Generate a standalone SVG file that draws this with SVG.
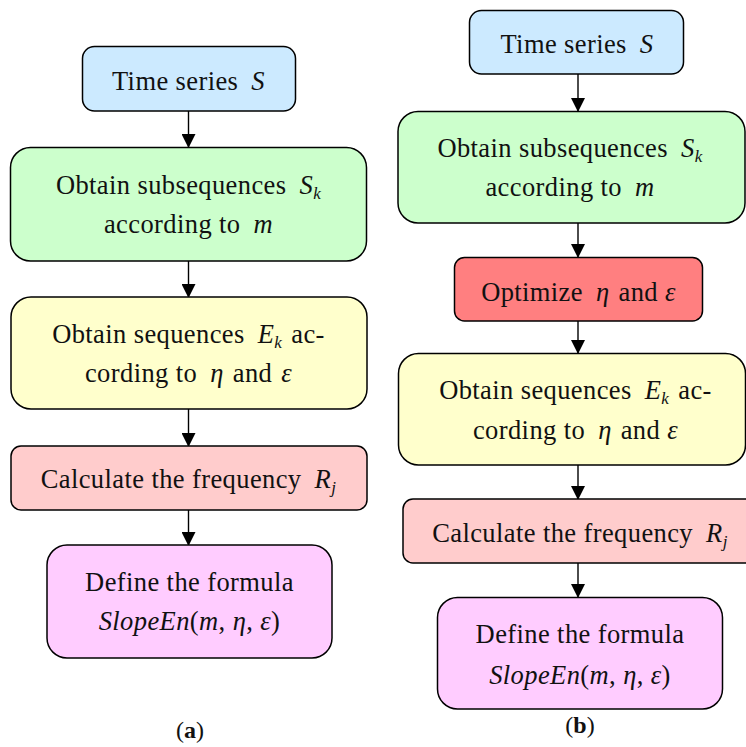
<svg xmlns="http://www.w3.org/2000/svg" width="746" height="747" viewBox="0 0 746 747">
<style>
.box{stroke:#000;stroke-width:1.5}
.blue{fill:#cceaff}.green{fill:#ccffcc}.yellow{fill:#ffffcc}.pink{fill:#ffcccc}.purple{fill:#ffccff}.red{fill:#ff7f80}
text{font-family:"Liberation Serif","Times New Roman",serif;font-size:26.5px;letter-spacing:0.4px;fill:#111;text-anchor:middle}
.m{font-style:italic}
.sub{font-size:17px;font-style:italic}
.cap{font-size:24px;letter-spacing:0}
.conn line{stroke:#000;stroke-width:1.4}
</style>
<defs>
<marker id="arr" viewBox="0 0 14 14" refX="13" refY="7" markerWidth="14" markerHeight="14" markerUnits="userSpaceOnUse" orient="auto">
<path d="M0,0 L14,7 L0,14 Z" fill="#000"/>
</marker>
</defs>
<g class="conn">
<line x1="188.5" y1="111" x2="188.5" y2="147" marker-end="url(#arr)"/>
<line x1="188.5" y1="261" x2="188.5" y2="297" marker-end="url(#arr)"/>
<line x1="188.5" y1="409" x2="188.5" y2="446" marker-end="url(#arr)"/>
<line x1="188.5" y1="510" x2="188.5" y2="545" marker-end="url(#arr)"/>
<line x1="578" y1="74" x2="578" y2="111" marker-end="url(#arr)"/>
<line x1="578" y1="223" x2="578" y2="257" marker-end="url(#arr)"/>
<line x1="578" y1="321" x2="578" y2="353" marker-end="url(#arr)"/>
<line x1="578" y1="465" x2="578" y2="499" marker-end="url(#arr)"/>
<line x1="578" y1="563" x2="578" y2="597" marker-end="url(#arr)"/>
</g>
<g id="a_time">
<rect class="box blue" x="82.5" y="46.5" width="213" height="64.5" rx="12"/>
<text x="188.5" y="90">Time series <tspan class="m" dx="6">S</tspan></text>
</g>
<g id="a_sub">
<rect class="box green" x="10.5" y="147.5" width="356" height="113.5" rx="20"/>
<text x="188.5" y="194">Obtain subsequences <tspan class="m" dx="6">S</tspan><tspan class="sub" dy="5">k</tspan></text>
<text x="188.5" y="233">according to <tspan class="m" dx="6">m</tspan></text>
</g>
<g id="a_seq">
<rect class="box yellow" x="11" y="297" width="356" height="112" rx="20"/>
<text x="188.5" y="343">Obtain sequences <tspan class="m" dx="6">E</tspan><tspan class="sub" dy="5">k</tspan><tspan dy="-5" dx="9">ac-</tspan></text>
<text x="188.5" y="382">cording to <tspan class="m" dx="6">η</tspan><tspan dx="9">and</tspan><tspan class="m" dx="9">ε</tspan></text>
</g>
<g id="a_freq">
<rect class="box pink" x="11" y="446" width="356" height="64" rx="10"/>
<text x="188.5" y="488">Calculate the frequency <tspan class="m" dx="6">R</tspan><tspan class="sub" dy="5">j</tspan></text>
</g>
<g id="a_formula">
<rect class="box purple" x="47" y="545" width="285" height="113" rx="20"/>
<text x="189.5" y="591">Define the formula</text>
<text x="189.5" y="630"><tspan class="m">SlopeEn</tspan>(<tspan class="m">m</tspan>, <tspan class="m">η</tspan>, <tspan class="m">ε</tspan>)</text>
</g>
<text class="cap" x="190" y="738">(<tspan font-weight="bold">a</tspan>)</text>
<g id="b_time">
<rect class="box blue" x="469.5" y="10.5" width="214" height="63.5" rx="12"/>
<text x="577" y="53">Time series <tspan class="m" dx="6">S</tspan></text>
</g>
<g id="b_sub">
<rect class="box green" x="398" y="111.5" width="347" height="111.5" rx="20"/>
<text x="570" y="157">Obtain subsequences <tspan class="m" dx="6">S</tspan><tspan class="sub" dy="5">k</tspan></text>
<text x="570" y="196">according to <tspan class="m" dx="6">m</tspan></text>
</g>
<g id="b_opt">
<rect class="box red" x="454.5" y="257.5" width="248" height="63.5" rx="10"/>
<text x="578.5" y="301">Optimize <tspan class="m" dx="6">η</tspan><tspan dx="9">and</tspan> <tspan class="m">ε</tspan></text>
</g>
<g id="b_seq">
<rect class="box yellow" x="398.5" y="353.5" width="347" height="111.5" rx="20"/>
<text x="575.5" y="399">Obtain sequences <tspan class="m" dx="6">E</tspan><tspan class="sub" dy="5">k</tspan><tspan dy="-5" dx="9">ac-</tspan></text>
<text x="575.5" y="439">cording to <tspan class="m" dx="6">η</tspan><tspan dx="9">and</tspan> <tspan class="m">ε</tspan></text>
</g>
<g id="b_freq">
<rect class="box pink" x="403" y="499" width="354" height="64" rx="10"/>
<text x="580" y="542">Calculate the frequency <tspan class="m" dx="6">R</tspan><tspan class="sub" dy="5">j</tspan></text>
</g>
<g id="b_formula">
<rect class="box purple" x="437.5" y="597.5" width="285" height="111.5" rx="20"/>
<text x="580" y="643">Define the formula</text>
<text x="580" y="684"><tspan class="m">SlopeEn</tspan>(<tspan class="m">m</tspan>, <tspan class="m">η</tspan>, <tspan class="m">ε</tspan>)</text>
</g>
<text class="cap" x="580" y="733">(<tspan font-weight="bold">b</tspan>)</text>
</svg>
